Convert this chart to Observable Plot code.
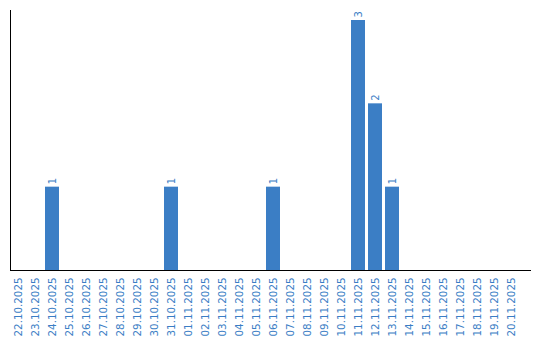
<!DOCTYPE html>
<html>
<head>
<meta charset="utf-8">
<script src="https://cdn.jsdelivr.net/npm/d3@7"></script>
<script src="https://cdn.jsdelivr.net/npm/@observablehq/plot@0.6"></script>
<style>
  html, body { margin: 0; padding: 0; background: #fff; }
</style>
</head>
<body>
<div id="chart"></div>
<script>
const dates = [
  "22.10.2025","23.10.2025","24.10.2025","25.10.2025","26.10.2025","27.10.2025",
  "28.10.2025","29.10.2025","30.10.2025","31.10.2025","01.11.2025","02.11.2025",
  "03.11.2025","04.11.2025","05.11.2025","06.11.2025","07.11.2025","08.11.2025",
  "09.11.2025","10.11.2025","11.11.2025","12.11.2025","13.11.2025","14.11.2025",
  "15.11.2025","16.11.2025","17.11.2025","18.11.2025","19.11.2025","20.11.2025"
];
const counts = [0,0,1,0,0,0,0,0,0,1,0,0,0,0,0,1,0,0,0,0,3,2,1,0,0,0,0,0,0,0];

const data = dates.map((d, i) => ({date: d, value: counts[i]}));
const nonZero = data.filter(d => d.value > 0);
const blue = "#3b7ec5";

const chart = Plot.plot({
  width: 540,
  height: 340,
  marginTop: 10,
  marginBottom: 70,
  marginLeft: 10,
  marginRight: 9,
  style: {fontFamily: "'DejaVu Sans', Verdana, sans-serif", fontSize: "10px", background: "#fff"},
  x: {domain: dates, axis: null, label: null, paddingInner: 0.1765, paddingOuter: 0.382, align: 0, insetLeft: 1},
  y: {domain: [0, 3.12], axis: null, label: null},
  marks: [
    Plot.barY(nonZero, {x: "date", y: "value", fill: blue}),
    Plot.text(nonZero, {x: "date", y: "value", text: d => String(d.value), rotate: -90, textAnchor: "start", dy: -3, fill: blue, fontSize: 10}),
    Plot.axisX({domain: dates, label: null, tickRotate: -90, tickSize: 0, tickPadding: 7, fill: blue, fontSize: 10.3, textAnchor: "end"}),
    Plot.ruleY([0], {stroke: "#000"}),
    Plot.frame({anchor: "left", stroke: "#000"})
  ]
});
document.getElementById("chart").appendChild(chart);
</script>
</body>
</html>
